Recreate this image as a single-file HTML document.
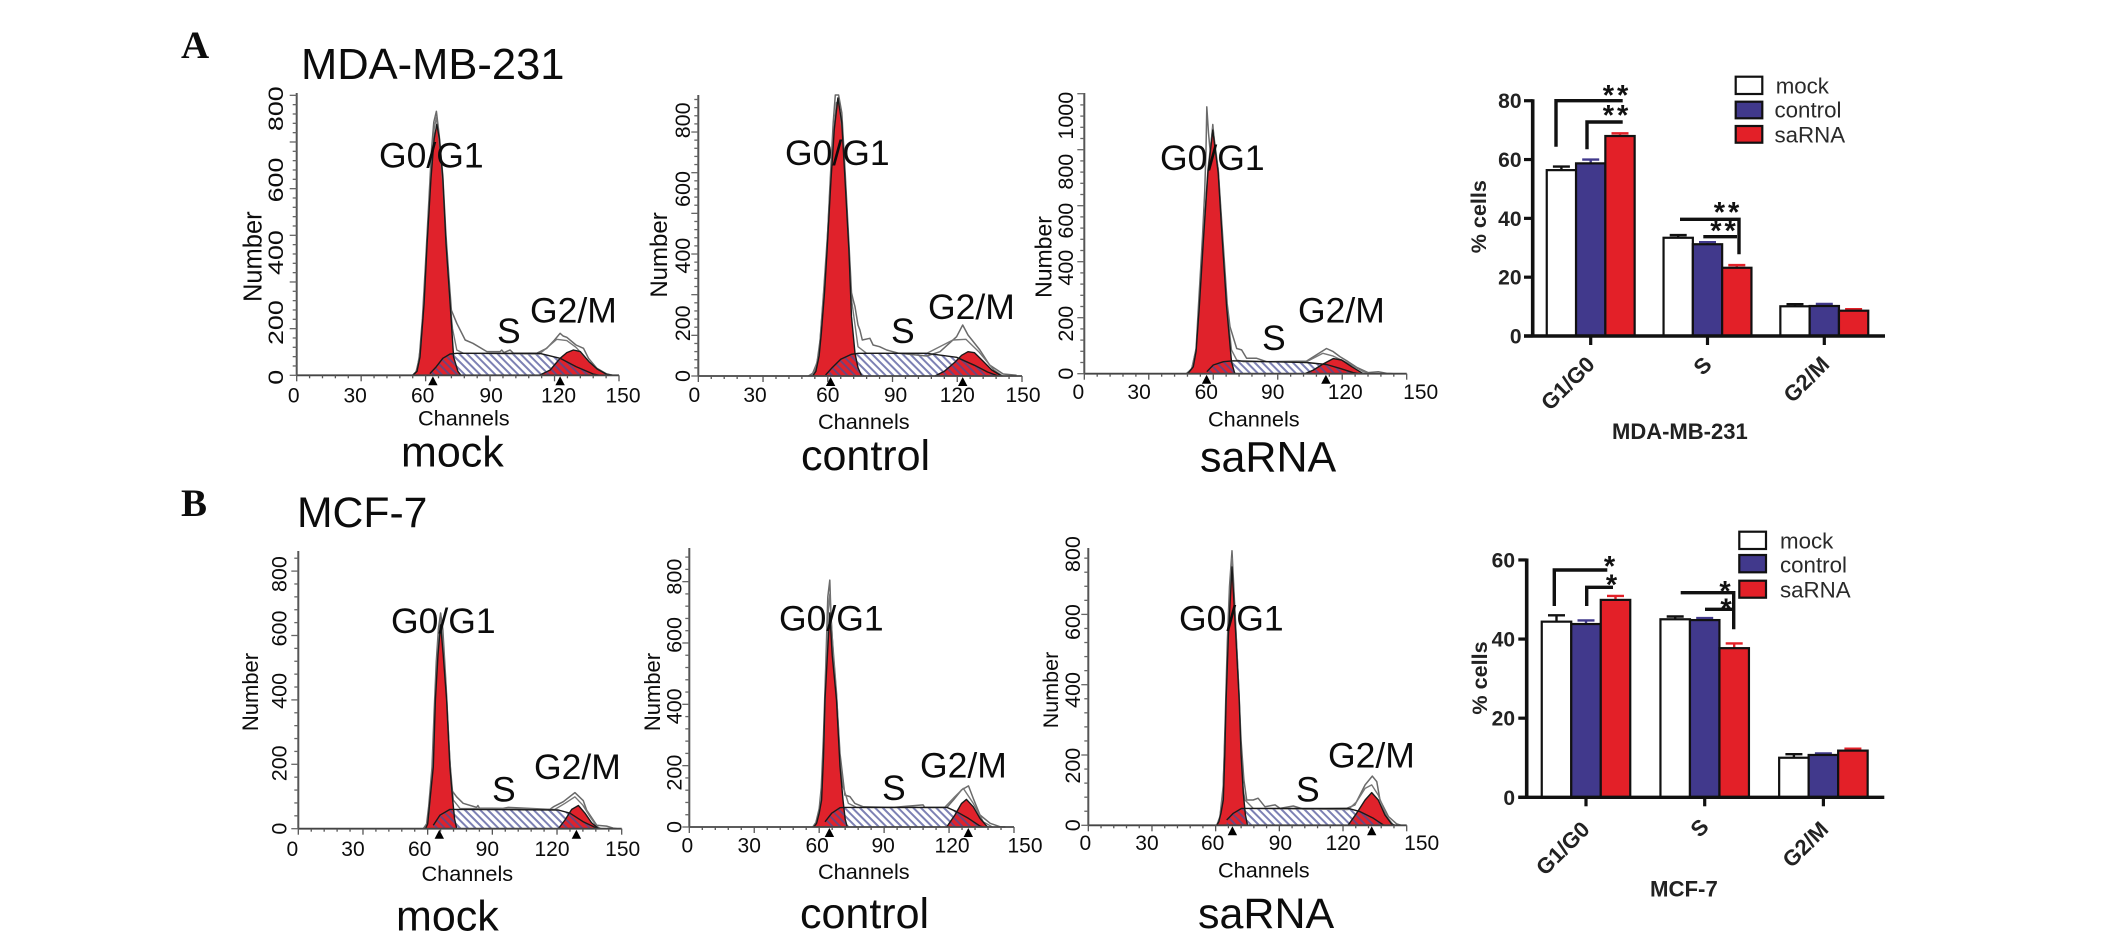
<!DOCTYPE html>
<html lang="en">
<head>
<meta charset="utf-8">
<title>Cell cycle histograms and bar charts</title>
<style>
html,body{margin:0;padding:0;background:#fff;width:2126px;height:941px;overflow:hidden}
svg{display:block}
text{font-family:"Liberation Sans",Arial,sans-serif;fill:#0c0c0c}
.letter{font-family:"Liberation Serif",serif;font-weight:bold;font-size:39px}
.title{font-size:43.5px}
.cond{font-size:43px}
.phase{font-size:35.5px}
.chan{font-size:21.7px}
.bold{font-weight:bold;fill:#222}
.leg{font-size:22.3px;fill:#2a2a2a}
.sig{font-size:29px;font-weight:bold;fill:#111;letter-spacing:3px}
.br{stroke:#111;stroke-width:3.4;fill:none}
</style>
</head>
<body>
<svg id="figure" xmlns="http://www.w3.org/2000/svg" width="2126" height="941" viewBox="0 0 2126 941">
<defs>
<pattern id="hatch" width="5.4" height="5.4" patternUnits="userSpaceOnUse" patternTransform="rotate(45)">
<rect x="0" y="0" width="5.4" height="2" fill="#4a4f96" fill-opacity="0.72"></rect>
</pattern>
</defs>
<g id="marks"></g>

<!-- panel letters and row titles -->
<text class="letter" x="181" y="58">A</text>
<text class="letter" x="181" y="516">B</text>
<text class="title" x="301" y="79">MDA-MB-231</text>
<text class="title" font-size="42.7" style="font-size:42.7px" x="297" y="527">MCF-7</text>

<!-- A mock -->
<text class="phase" x="379" y="167.5">G0/G1</text>
<text class="phase" x="497" y="343">S</text>
<text class="phase" x="530" y="322.7">G2/M</text>
<text class="chan" x="418" y="425.7">Channels</text>
<text class="cond" x="401" y="466.7">mock</text>
<text font-size="25.5" text-anchor="middle" transform="translate(261.7 256.7) rotate(-90)">Number</text>

<!-- A control -->
<text class="phase" x="785" y="165">G0/G1</text>
<text class="phase" x="891" y="343">S</text>
<text class="phase" x="928" y="319">G2/M</text>
<text class="chan" x="818" y="429">Channels</text>
<text class="cond" x="801" y="470">control</text>
<text font-size="24" text-anchor="middle" transform="translate(667 255) rotate(-90)">Number</text>

<!-- A saRNA -->
<text class="phase" x="1160" y="170">G0/G1</text>
<text class="phase" x="1262" y="350">S</text>
<text class="phase" x="1298" y="322.7">G2/M</text>
<text class="chan" x="1208" y="426.7">Channels</text>
<text class="cond" x="1200" y="471.7">saRNA</text>
<text font-size="23" text-anchor="middle" transform="translate(1051.7 257) rotate(-90)">Number</text>

<!-- B mock -->
<text class="phase" x="391" y="633">G0/G1</text>
<text class="phase" x="492" y="801.7">S</text>
<text class="phase" x="534" y="779">G2/M</text>
<text class="chan" x="421.5" y="881">Channels</text>
<text class="cond" x="396" y="930.7">mock</text>
<text font-size="22" text-anchor="middle" transform="translate(258 692) rotate(-90)">Number</text>

<!-- B control -->
<text class="phase" x="779" y="630.7">G0/G1</text>
<text class="phase" x="882" y="800">S</text>
<text class="phase" x="920" y="777.7">G2/M</text>
<text class="chan" x="818" y="879">Channels</text>
<text class="cond" x="800" y="928">control</text>
<text font-size="22" text-anchor="middle" transform="translate(660 692) rotate(-90)">Number</text>

<!-- B saRNA -->
<text class="phase" x="1179" y="630.7">G0/G1</text>
<text class="phase" x="1296" y="801.7">S</text>
<text class="phase" x="1328" y="767.7">G2/M</text>
<text class="chan" x="1218" y="877.7">Channels</text>
<text class="cond" x="1198" y="928">saRNA</text>
<text font-size="21.5" text-anchor="middle" transform="translate(1058 690) rotate(-90)">Number</text>

<!-- bar chart A static annotation -->
<g>
<path class="br" d="M1556 146.7V100.7H1622.7"></path>
<path class="br" d="M1587 149.3V122H1622.7"></path>
<path class="br" d="M1680 219.3H1739V254.3"></path>
<path class="br" d="M1703.3 236.7H1737"></path>
<text class="sig" x="1617" y="105" text-anchor="middle">**</text>
<text class="sig" x="1617" y="125" text-anchor="middle">**</text>
<text class="sig" x="1728" y="222" text-anchor="middle">**</text>
<text class="sig" x="1724.5" y="240.5" text-anchor="middle">**</text>
</g>
<g>
<rect x="1735.7" y="76.7" width="26.6" height="17.3" fill="#fff" stroke="#111" stroke-width="2.2"></rect>
<rect x="1735.7" y="101.7" width="26.6" height="16.6" fill="#41398c" stroke="#111" stroke-width="2.2"></rect>
<rect x="1735.7" y="126" width="26.6" height="16.7" fill="#e32028" stroke="#111" stroke-width="2.2"></rect>
<text class="leg" x="1775.7" y="93.3">mock</text>
<text class="leg" x="1774.5" y="117.7">control</text>
<text class="leg" x="1774.5" y="142.3">saRNA</text>
</g>
<text class="bold" font-size="21.6" text-anchor="middle" transform="translate(1486 216.7) rotate(-90)">% cells</text>
<text class="bold" font-size="22" x="1612" y="439">MDA-MB-231</text>

<!-- bar chart B static annotation -->
<g>
<path class="br" d="M1554.3 606V570H1607.3"></path>
<path class="br" d="M1586.7 606V587.3H1613"></path>
<path class="br" d="M1680.7 592.7H1733.7V629.3"></path>
<path class="br" d="M1705 609.3H1733"></path>
<text class="sig" x="1611" y="576" text-anchor="middle">*</text>
<text class="sig" x="1613" y="594.3" text-anchor="middle">*</text>
<text class="sig" x="1726.5" y="601" text-anchor="middle">*</text>
<text class="sig" x="1727.5" y="618.7" text-anchor="middle">*</text>
</g>
<g>
<rect x="1739.3" y="531.7" width="26.7" height="17.3" fill="#fff" stroke="#111" stroke-width="2.2"></rect>
<rect x="1739.3" y="555" width="26.7" height="17.3" fill="#41398c" stroke="#111" stroke-width="2.2"></rect>
<rect x="1739.3" y="580.7" width="26.7" height="17" fill="#e32028" stroke="#111" stroke-width="2.2"></rect>
<text class="leg" x="1780" y="548.3">mock</text>
<text class="leg" x="1780" y="572.3">control</text>
<text class="leg" x="1780" y="597.3">saRNA</text>
</g>
<text class="bold" font-size="21.6" text-anchor="middle" transform="translate(1487 678) rotate(-90)">% cells</text>
<text class="bold" font-size="22.2" x="1650" y="896.7">MCF-7</text>
</svg>

<script>
/* ---------- histogram data: [channel, count] ---------- */
const xTickLabels = [0, 30, 60, 90, 120, 150];
const yTickLabels800 = [0, 200, 400, 600, 800];
const yTickLabels1000 = [0, 200, 400, 600, 800, 1000];

const aMockG1 = [[54,0],[56,12],[57.4,55],[59.3,216],[60.7,395],[62.5,592],[64,710],[65.2,753],[66.4,710],[68,592],[69.5,395],[71.4,216],[73,55],[75,12],[76.4,0]];
const aMockS = [[62,5],[65,26],[68,51],[71.4,64],[74.5,66],[113,66],[122.6,51],[130,26],[138,4],[141,0]];
const aMockG2 = [[113,0],[118,16],[122.6,51],[125.7,68],[128.8,76],[132,71],[136,41],[140,18],[144,4],[147,0]];
const aMockRaw = [[54,0],[55.5,10],[57,50],[58.5,170],[60,340],[61.5,520],[62.8,680],[63.8,760],[65,792],[66.3,720],[68,600],[69.5,420],[70.8,300],[72,195],[74.5,156],[78.4,106],[82,96],[88.5,71],[94.7,71],[95.4,76],[96.5,68],[99.3,76],[100.9,66],[111.7,66],[116.4,81],[120,106],[122.6,126],[124,118],[125.7,114],[130,91],[133.5,81],[135.8,51],[139.7,21],[144.3,4],[147.4,0]];
const aMockFit = [[54,0],[56,14],[58,100],[60,320],[62,560],[64,740],[65,775],[66.3,700],[68,580],[69.5,400],[71,250],[72.5,140],[74.5,76],[77.6,66],[113,64],[118,91],[121,108],[125.7,104],[130,84],[136,41],[140,18],[144,4],[147,0]];
const aMockPeaks = [63.4, 122.6];

const aControlG1 = [[53,0],[54.5,14],[56,60],[57,128],[58.5,250],[59.7,378],[61.5,590],[63,740],[64.7,834],[66.5,760],[68,590],[69.8,378],[71,178],[72.6,68],[74,25],[75.7,0]];
const aControlS = [[59,3],[62,25],[66,50],[71,65],[74,68],[105.8,68],[119.7,56],[128,32],[134,12],[139,0]];
const aControlG2 = [[109.7,0],[114,14],[119,42],[122,62],[125,73],[128,70],[132,44],[136,18],[140.6,0]];
const aControlRaw = [[51,0],[53,8],[55,40],[56.5,110],[58,240],[59.5,370],[61,570],[62.5,760],[63.5,843],[65,843],[66.5,790],[68,620],[69.8,400],[71,250],[71.8,228],[72.6,208],[74,153],[74.9,138],[76,108],[79.5,113],[81,93],[84,88],[87.3,78],[93,68],[105.8,60],[112,73],[119.7,118],[122.5,153],[125,123],[130.5,78],[135,33],[141.3,6],[147.5,2]];
const aControlFit = [[52,0],[54,14],[56,70],[58,250],[60,440],[62,680],[64,820],[65,825],[67,720],[69,480],[71,230],[74,88],[78,68],[106,68],[118,108],[124,110],[130,73],[137,18],[141,0]];
const aControlPeaks = [61.3, 122.5];

const aSarnaG1 = [[47.5,0],[48.4,3],[50,18],[50.7,25],[52,80],[53.5,239],[55.4,477],[57.5,717],[59.8,870],[62.3,717],[64.2,477],[66.2,239],[68.5,43],[70,0]];
const aSarnaS = [[57,7],[60,31],[64.7,43],[69.3,46],[103.4,40],[112.7,33],[119,19],[125,4],[128,0]];
const aSarnaG2 = [[102.7,0],[106.5,13],[111.2,35],[115.8,54],[119.7,49],[124.4,25],[129.8,0]];
const aSarnaRaw = [[47.5,0],[50,18],[52,90],[53.2,250],[55,490],[56,650],[56.6,800],[57,953],[57.8,860],[58.6,790],[59.8,890],[60.8,800],[62.3,730],[64.4,490],[66.5,250],[67.8,168],[70.9,90],[73.2,85],[75.5,55],[80.2,55],[84.8,43],[103.4,45],[108,67],[112.7,90],[115.8,79],[118.9,61],[122.8,43],[126.7,23],[132,4],[136.8,7],[140.7,1],[144,0]];
const aSarnaFit = [[48,0],[50,20],[52,85],[53.5,250],[55.4,490],[57.5,730],[59.8,880],[62.3,730],[64.2,490],[66.2,250],[68.5,85],[70.9,49],[74,43],[103.4,43],[111,73],[115.8,63],[122.8,37],[130,7],[133,0]];
const aSarnaPeaks = [56.9, 112.4];

const bMockG1 = [[59,0],[60,15],[61.1,89],[62.6,192],[63.6,400],[64.8,540],[66,633],[67.2,540],[68.8,400],[70.3,192],[71.6,89],[72.5,30],[73.5,0]];
const bMockS = [[62.6,11],[65.7,42],[70.3,60],[72.2,60],[120.6,58],[126,48],[132,22],[138.4,2],[140,0]];
const bMockG2 = [[120.6,0],[123.7,27],[126.8,60],[129.9,72],[133,48],[136,19],[139,2],[140.7,0]];
const bMockRaw = [[58,0],[59.5,15],[60.5,70],[62,190],[63,360],[64,520],[65,620],[66,670],[67,620],[68.5,450],[70,250],[71.1,120],[73.4,99],[76.5,79],[82.7,66],[83.3,72],[84,64],[95,63],[97.4,66],[116.7,60],[118.3,68],[122.9,84],[128.3,112],[132.2,87],[133.7,58],[138.4,11],[143,8],[146,2],[148,0]];
const bMockFit = [[59,0],[60.5,40],[62,170],[63.5,400],[65,590],[66,650],[67,590],[68.8,410],[70.3,210],[71.9,89],[75,63],[119,60],[123.7,79],[128.3,99],[132,73],[135,40],[138.4,8],[140,0]];
const bMockPeaks = [65.4, 129];

const bControlG1 = [[57.5,0],[58.8,12],[60,45],[61.1,88],[62,230],[62.7,414],[63.8,560],[64.9,698],[66,560],[68,414],[69.6,197],[71,88],[72,25],[73,0]];
const bControlS = [[62.7,17],[65.8,45],[69.6,63],[71.5,64],[119,64],[123.5,50],[129,28],[134.3,3],[135.8,0]];
const bControlG2 = [[119,1],[122.7,39],[125.8,77],[128,90],[131.2,66],[134.3,28],[137.4,3],[138,0]];
const bControlRaw = [[57,0],[58.5,15],[60,60],[61,130],[62,300],[63,520],[64,750],[64.9,805],[65.5,680],[66.5,560],[68,430],[69.6,240],[71.9,104],[74.2,99],[76.5,77],[80.4,66],[94.3,64],[108,72],[108.8,64],[119,64],[122,88],[125.8,121],[129,134],[131.2,93],[134.3,39],[139,12],[143.5,1],[146,0]];
const bControlFit = [[57.5,0],[59,20],[60.5,70],[62,230],[63,480],[64,680],[64.9,760],[66,620],[68,440],[69.6,220],[71,132],[73.5,77],[77.3,64],[118,64],[122.7,99],[126.6,126],[131.2,77],[135.8,17],[140,0]];
const bControlPeaks = [64.7, 128.9];

const bSarnaG1 = [[60.5,0],[61.5,10],[62.5,35],[63.6,72],[64.3,200],[64.9,356],[66,540],[67.7,735],[69.5,540],[71.1,356],[72,200],[73,91],[74,30],[75,0]];
const bSarnaS = [[65.2,15],[68.3,34],[72.2,48],[74.6,48],[122.5,48],[128,39],[134.3,20],[139,1],[140,0]];
const bSarnaG2 = [[122.5,1],[126.4,34],[130.4,72],[133.5,93],[136.6,72],[139.8,29],[142.9,4],[144.5,0]];
const bSarnaRaw = [[60.5,0],[62,20],[63.5,100],[64.5,300],[65.5,520],[66.5,680],[67.7,781],[69,620],[70.5,440],[72,240],[73.3,129],[74.6,72],[77.7,72],[80,77],[83.2,53],[88,58],[90.3,48],[96.6,55],[101.3,46],[121.7,48],[125.6,58],[130.4,115],[133.8,140],[135.9,124],[137.4,72],[141.4,25],[145.3,4],[147.6,0]];
const bSarnaFit = [[60.5,0],[62,25],[63.5,110],[64.8,320],[66,560],[67.7,760],[69.5,560],[71.1,370],[72,200],[73,100],[73.8,72],[77.7,48],[122.5,45],[126.4,67],[130.4,105],[133.5,115],[136.6,86],[140.6,25],[143.7,1],[145,0]];
const bSarnaPeaks = [67.9, 133.5];

/* ---------- bar chart data (% cells per phase) ---------- */
const barCategories = ["G1/G0", "S", "G2/M"];
const mdaTicks = [0, 20, 40, 60, 80];
const mdaMock = [56.4, 33.4, 10.1];
const mdaControl = [58.7, 31.2, 10.2];
const mdaSarna = [68, 23.2, 8.6];
const mdaMockErr = [1.2, 0.9, 0.7];
const mdaControlErr = [1.3, 0.7, 0.7];
const mdaSarnaErr = [0.9, 0.9, 0.5];

const mcfTicks = [0, 20, 40, 60];
const mcfMock = [44.4, 45, 10];
const mcfControl = [43.8, 44.8, 10.7];
const mcfSarna = [49.9, 37.7, 11.8];
const mcfMockErr = [1.6, 0.7, 0.9];
const mcfControlErr = [0.9, 0.5, 0.4];
const mcfSarnaErr = [1, 1.2, 0.5];

/* ---------- layout ---------- */
const NS = "http://www.w3.org/2000/svg";
const root = document.getElementById("marks");

function mk(tag, attrs, parent) {
  const el = document.createElementNS(NS, tag);
  for (const k in attrs) el.setAttribute(k, attrs[k]);
  parent.appendChild(el);
  return el;
}

const histLayouts = [
  {id:"a-mock", x0:296.7, x150:619, y0:375.3, k:0.3333, top:93, tick:140, xLab:402.7, yLab:283, stretch:1.25,
   xNudge:[-3,-6,-3,1,4,4], yNudge:[2,14,10.6,4.7,0], yLabels:yTickLabels800,
   g1:aMockG1, s:aMockS, g2:aMockG2, raw:aMockRaw, fit:aMockFit, peaks:aMockPeaks},
  {id:"a-control", x0:698.3, x150:1022, y0:376, k:0.3333, top:95, tick:122, xLab:402, yLab:690, stretch:1,
   xNudge:[-4,-8,0,3,0,1], yNudge:[0,14,13,13,11], yLabels:yTickLabels800,
   g1:aControlG1, s:aControlS, g2:aControlG2, raw:aControlRaw, fit:aControlFit, peaks:aControlPeaks},
  {id:"a-sarna", x0:1084.3, x150:1406.7, y0:373.7, k:0.28, top:93, tick:200, xLab:399, yLab:1073, stretch:1,
   xNudge:[-6,-9.7,-7,-5,3,14], yNudge:[0,6,6,15,22,22], yLabels:yTickLabels1000,
   g1:aSarnaG1, s:aSarnaS, g2:aSarnaG2, raw:aSarnaRaw, fit:aSarnaFit, peaks:aSarnaPeaks},
  {id:"b-mock", x0:298.3, x150:621.7, y0:828.7, k:0.322, top:551, tick:200, xLab:856, yLab:286.7, stretch:1,
   xNudge:[-6,-10,-8,-5,-5,1], yNudge:[0,-1,-9,-7,3], yLabels:yTickLabels800,
   g1:bMockG1, s:bMockS, g2:bMockG2, raw:bMockRaw, fit:bMockFit, peaks:bMockPeaks},
  {id:"b-control", x0:689.3, x150:1014, y0:827, k:0.3067, top:548, tick:200, xLab:852.7, yLab:681.7, stretch:1,
   xNudge:[-2,-5,-2,-1,3,11], yNudge:[0,7,2,-8,-5], yLabels:yTickLabels800,
   g1:bControlG1, s:bControlS, g2:bControlG2, raw:bControlRaw, fit:bControlFit, peaks:bControlPeaks},
  {id:"b-sarna", x0:1088.3, x150:1406.7, y0:825.3, k:0.3515, top:548, tick:200, xLab:850, yLab:1080, stretch:1,
   xNudge:[-3,-5,-3,1,0,15], yNudge:[0,10.7,5.3,7.7,10], yLabels:yTickLabels800,
   g1:bSarnaG1, s:bSarnaS, g2:bSarnaG2, raw:bSarnaRaw, fit:bSarnaFit, peaks:bSarnaPeaks}
];

function drawHistogram(p) {
  const xS = ch => p.x0 + ch * (p.x150 - p.x0) / 150;
  const yS = c => p.y0 - c * p.k;
  const g = mk("g", {}, root);
  
  
  const line = pts => pts.map((q, i) => (i ? "L" : "M") + xS(q[0]).toFixed(1) + " " + yS(q[1]).toFixed(1)).join("");
  const area = pts => line(pts) + "L" + xS(pts[pts.length - 1][0]).toFixed(1) + " " + p.y0 + "L" + xS(pts[0][0]).toFixed(1) + " " + p.y0 + "Z";

  const g1Fill = mk("path", {d:area(p.g1), fill:"#e0222b"}, g);
  
  
  const g2Fill = mk("path", {d:area(p.g2), fill:"#e0222b"}, g);
  
  
  const sFill = mk("path", {d:area(p.s), fill:"url(#hatch)"}, g);
  
  

  const raw = mk("path", {d:line(p.raw), fill:"none", stroke:"#6a6a6a", "stroke-width":1.5, "stroke-linejoin":"round"}, g);
  
  
  const fit = mk("path", {d:line(p.fit), fill:"none", stroke:"#777", "stroke-width":1.4, "stroke-linejoin":"round"}, g);
  
  

  const outlines = [p.g1, p.s, p.g2];
  outlines.forEach(pts => {
    const o = mk("path", {d:line(pts), fill:"none", stroke:"#1a1a1a", "stroke-width":1.4, "stroke-linejoin":"round"}, g);
    
    
  });

  p.peaks.forEach(ch => {
    const x = xS(ch);
    const tri = mk("path", {d:"M" + x.toFixed(1) + " " + (p.y0 + 1) + "l4.7 9h-9.4Z", fill:"#000"}, g);
    
    
  });

  const xAxis = mk("line", {x1:p.x0, x2:p.x150, y1:p.y0, y2:p.y0, stroke:"#444", "stroke-width":1.8}, g);
  
  
  const yAxis = mk("line", {x1:p.x0, x2:p.x0, y1:p.top, y2:p.y0, stroke:"#555", "stroke-width":2}, g);
  
  

  for (let ch = 0; ch <= 150; ch += 6) {
    const major = ch % 30 === 0;
    const t = mk("line", {x1:xS(ch), x2:xS(ch), y1:p.y0, y2:p.y0 + (major ? 6 : 3), stroke:"#555", "stroke-width":1.3}, g);
    
    
  }
  const minor = p.tick / 5;
  for (let n = 0; yS(n * minor) >= p.top; n++) {
    const major = n % 5 === 0;
    const y = yS(n * minor);
    const t = mk("line", {x1:p.x0, x2:p.x0 - (major ? 7 : 4), y1:y, y2:y, stroke:"#666", "stroke-width":1.3}, g);
    
    
  }

  xTickLabels.forEach((v, i) => {
    const t = mk("text", {x:xS(v) + p.xNudge[i], y:p.xLab, "text-anchor":"middle", "font-size":21}, g);
    
    
    t.textContent = v;
  });
  p.yLabels.forEach((v, i) => {
    const y = yS(v) + p.yNudge[i];
    const t = mk("text", {transform:"translate(" + p.yLab + " " + y + ") rotate(-90) scale(" + p.stretch + " 1)", "text-anchor":"middle", "font-size":21.5}, g);
    
    
    t.textContent = v;
  });
}
histLayouts.forEach(drawHistogram);

const barLayouts = [
  {id:"mda", axisX:1532.7, y0:336, per:2.941, first:1590.7, step:116.8, barW:29.3, xEnd:1885, tickLeft:1524, labelRight:1521.5,
   ticks:mdaTicks, series:[mdaMock, mdaControl, mdaSarna], errs:[mdaMockErr, mdaControlErr, mdaSarnaErr],
   catAnchor:[[1596,365.7],[1713,366],[1830.7,365.7]]},
  {id:"mcf", axisX:1526.7, y0:797.3, per:3.956, first:1586, step:118.7, barW:29.5, xEnd:1884.3, tickLeft:1518.3, labelRight:1515,
   ticks:mcfTicks, series:[mcfMock, mcfControl, mcfSarna], errs:[mcfMockErr, mcfControlErr, mcfSarnaErr],
   catAnchor:[[1591,830.7],[1710,828],[1829.7,830.7]]}
];
const barFills = ["#ffffff", "#41398c", "#e32028"];
const capColors = ["#111111", "#41398c", "#e32028"];
const seriesNames = ["mock", "control", "sarna"];

function drawBars(c) {
  const yS = v => c.y0 - v * c.per;
  const g = mk("g", {}, root);
  
  

  c.series.forEach((vals, s) => {
    vals.forEach((v, cat) => {
      const left = c.first + cat * c.step + (s - 1.5) * c.barW;
      const mid = left + c.barW / 2;
      const top = yS(v + c.errs[s][cat]);
      const stem = mk("line", {x1:mid, x2:mid, y1:yS(v), y2:top, stroke:capColors[s], "stroke-width":2.4}, g);
      
      
      const cap = mk("line", {x1:mid - 8.5, x2:mid + 8.5, y1:top, y2:top, stroke:capColors[s], "stroke-width":2.4}, g);
      
      
      const bar = mk("rect", {x:left, y:yS(v), width:c.barW, height:v * c.per, fill:barFills[s], stroke:"#111", "stroke-width":2.2}, g);
      
      
    });
  });

  const yAxis = mk("line", {x1:c.axisX, x2:c.axisX, y1:yS(c.ticks[c.ticks.length - 1]) - 1.5, y2:c.y0, stroke:"#111", "stroke-width":3.6}, g);
  
  
  const xAxis = mk("line", {x1:c.tickLeft, x2:c.xEnd, y1:c.y0, y2:c.y0, stroke:"#111", "stroke-width":3.4}, g);
  
  

  c.ticks.forEach(v => {
    const t = mk("line", {x1:c.tickLeft, x2:c.axisX, y1:yS(v), y2:yS(v), stroke:"#111", "stroke-width":3.2}, g);
    
    
    const l = mk("text", {x:c.labelRight, y:yS(v) + 7.5, "text-anchor":"end", "font-size":21, "font-weight":"bold", style:"fill:#222"}, g);
    
    
    l.textContent = v;
  });
  barCategories.forEach((name, cat) => {
    const x = c.first + cat * c.step;
    const t = mk("line", {x1:x, x2:x, y1:c.y0, y2:c.y0 + 9, stroke:"#111", "stroke-width":3.2}, g);
    
    
    const a = c.catAnchor[cat];
    const l = mk("text", {transform:"translate(" + a[0] + " " + a[1] + ") rotate(-45)", "text-anchor":"end", "font-size":22, "font-weight":"bold", style:"fill:#222"}, g);
    
    
    l.textContent = name;
  });
}
barLayouts.forEach(drawBars);
</script>
</body>
</html>
